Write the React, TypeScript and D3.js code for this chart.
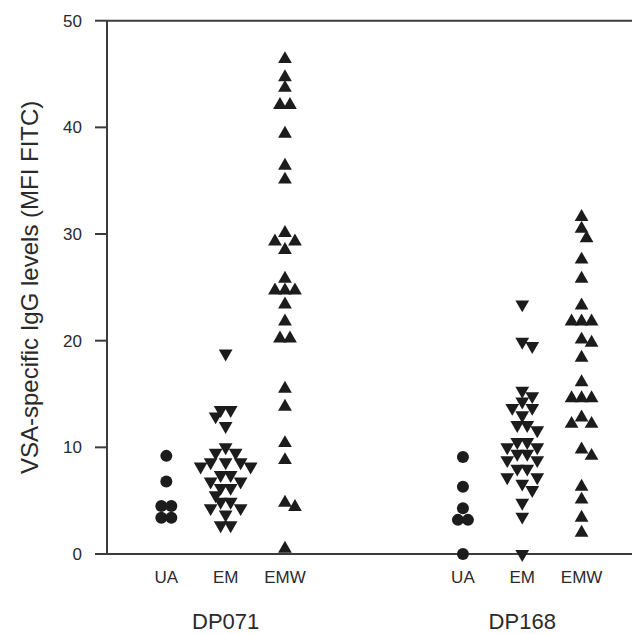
import React from 'react';
import * as d3 from 'd3';

// values (MFI FITC)
const categories = ['UA', 'EM', 'EMW'];
const antigens = ['DP071', 'DP168'];
const shapes = ['circle', 'down', 'up'];

const dp071UA = [9.2, 6.8, 4.5, 4.5, 3.4, 3.4];
const dp071EM = [18.8, 13.5, 13.5, 12.9, 12.0, 10.0, 9.5, 9.5, 8.6, 8.6, 8.6, 8.2, 8.2, 7.4, 7.4,
  6.8, 6.8, 6.2, 6.2, 5.5, 4.9, 4.9, 4.3, 4.3, 3.7, 2.7, 2.7];
const dp071EMW = [46.4, 44.7, 43.7, 42.1, 42.1, 39.4, 36.4, 35.1, 30.1, 29.3, 29.3, 28.5, 25.8,
  24.7, 24.7, 24.7, 23.4, 21.8, 20.2, 20.2, 15.5, 13.8, 10.4, 8.8, 4.8, 4.4, 0.5];
const dp168UA = [9.1, 6.3, 4.3, 3.2, 3.2, 0.0];
const dp168EM = [23.4, 19.9, 19.5, 15.3, 14.8, 14.3, 13.7, 13.7, 13.0, 12.1, 12.1, 11.6, 10.5,
  10.5, 10.0, 10.0, 9.4, 9.4, 8.8, 8.8, 8.0, 8.0, 7.2, 7.2, 6.6, 6.0, 4.8, 3.5, 0.0];
const dp168EMW = [31.6, 30.5, 29.6, 27.6, 25.8, 23.3, 21.8, 21.8, 21.8, 20.1, 19.8, 18.4, 16.1,
  14.6, 14.6, 14.6, 12.8, 12.2, 12.2, 9.8, 9.2, 6.3, 5.1, 3.4, 2.0];

const groups = [
  [dp071UA, dp071EM, dp071EMW],
  [dp168UA, dp168EM, dp168EMW],
];
const yTicks = [0, 10, 20, 30, 40, 50];

const W = 639;
const H = 634;
const axisX = 107;
const axisRight = 632;
const font = '"Liberation Sans", Arial, sans-serif';
const ink = '#1c1c1c';
const lineCol = '#3c3c3c';

const y = d3.scaleLinear().domain([0, 50]).range([554, 20.7]);
// slot positions: 0..2 for DP071, 5..7 for DP168
const x = d3.scaleLinear().domain([-1, 7.85]).range([axisX, axisRight]);

// simple beeswarm dodge so points at similar values sit side by side
const swarm = (values: number[], cx: number) => {
  const minDist = 10;
  const step = 5;
  const placed: { x: number; y: number; v: number }[] = [];
  const sorted = [...values].sort((a, b) => b - a);
  sorted.forEach((v) => {
    const py = y(v);
    for (let k = 0; k < 20; k++) {
      const off = k === 0 ? 0 : (k % 2 === 1 ? 1 : -1) * Math.ceil(k / 2) * step;
      const px = cx + off;
      const ok = placed.every((p) => (p.x - px) ** 2 + (p.y - py) ** 2 >= minDist * minDist);
      if (ok) {
        placed.push({ x: px, y: py, v });
        break;
      }
    }
  });
  // centre rows of equal values about the column
  const rows = d3.group(placed, (p) => p.v);
  rows.forEach((row) => {
    if (row.length < 2) return;
    const shift = cx - d3.mean(row, (p) => p.x)!;
    row.forEach((p) => { p.x += shift; });
  });
  return placed;
};

const triangle = d3.symbol(d3.symbolTriangle, 82)() as string;

const Marker = ({ shape, px, py }: { shape: string; px: number; py: number }) => {
  if (shape === 'circle') return <circle cx={px} cy={py} r={6} fill={ink} />;
  const rot = shape === 'down' ? 180 : 0;
  return <path d={triangle} transform={`translate(${px},${py}) rotate(${rot})`} fill={ink} />;
};

const App = () => {
  return (
    <svg width={W} height={H} style={{ position: 'absolute', left: 0, top: 0, background: '#fff' }}>
      <rect width={W} height={H} fill="#fff" />
      {/* frame lines */}
      <line x1={axisX} x2={axisX} y1={y(50)} y2={y(0)} stroke={lineCol} strokeWidth={2} />
      <line x1={axisX} x2={axisRight} y1={y(0)} y2={y(0)} stroke={lineCol} strokeWidth={2} />
      <line x1={axisX} x2={axisRight} y1={y(50)} y2={y(50)} stroke={lineCol} strokeWidth={2} />
      {yTicks.map((t) => (
        <g key={t}>
          <line x1={axisX - 12} x2={axisX} y1={y(t)} y2={y(t)} stroke={lineCol} strokeWidth={2} />
          <text x={axisX - 25} y={y(t)} dy="0.35em" textAnchor="end" fontFamily={font}
            fontSize={17} fill="#2a2a2a">{t}</text>
        </g>
      ))}
      <text transform={`translate(38,${(y(0) + y(50)) / 2}) rotate(-90)`} textAnchor="middle"
        fontFamily={font} fontSize={24} fill="#2a2a2a">VSA-specific IgG levels (MFI FITC)</text>

      {groups.map((g, gi) => (
        <g key={antigens[gi]}>
          {g.map((vals, ci) => {
            const cx = x(gi * 5 + ci);
            return (
              <g key={categories[ci]}>
                {swarm(vals, cx).map((p, i) => (
                  <Marker key={i} shape={shapes[ci]} px={p.x} py={p.y} />
                ))}
                <text x={cx} y={583} textAnchor="middle" fontFamily={font} fontSize={17}
                  fill="#2a2a2a">{categories[ci]}</text>
              </g>
            );
          })}
          <text x={x(gi * 5 + 1)} y={629} textAnchor="middle" fontFamily={font} fontSize={22}
            fill="#2a2a2a">{antigens[gi]}</text>
        </g>
      ))}
    </svg>
  );
};

export default App;
